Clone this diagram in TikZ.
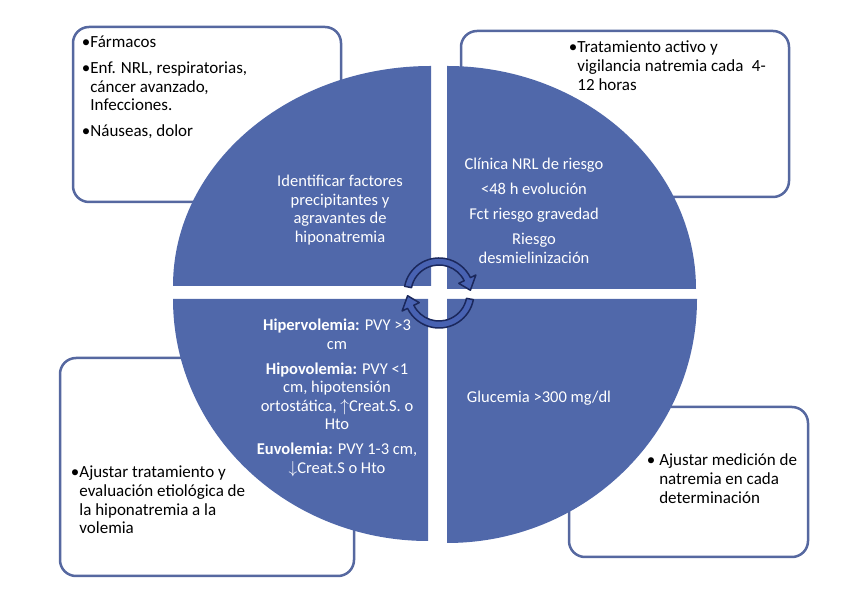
\documentclass[tikz,border=0pt]{standalone}
\usepackage{fontspec}
\setmainfont{Carlito}
\usepackage{tikz}
\usetikzlibrary{positioning}

\definecolor{quadblue}{RGB}{80,104,170}
\definecolor{boxline}{RGB}{86,104,160}
\definecolor{cyclefill}{RGB}{72,98,178}
\definecolor{cycleline}{RGB}{27,40,92}

\begin{document}
\begin{tikzpicture}[x=1pt,y=1pt,
  box/.style={draw=boxline,line width=2.5pt,rounded corners=16pt,fill=white,inner sep=0pt},
  boxtext/.style={inner sep=0pt,align=left,font=\fontsize{17}{18.6}\selectfont},
  quadtext/.style={inner sep=0pt,align=center,text=white,font=\fontsize{16.5}{18.5}\selectfont},
  cyclearrow/.style={fill=cyclefill,draw=cycleline,line width=1.5pt,line join=round}]
   \useasboundingbox (0,0) rectangle (860,589);
   \node[box,minimum width=268pt,minimum height=175pt] (fbox) at (207,474.5) {};
   \node[box,minimum width=328pt,minimum height=166pt] (tbox) at (625,475) {};
   \node[box,minimum width=294pt,minimum height=218pt] (vbox) at (207,122) {};
   \node[box,minimum width=239pt,minimum height=150pt] (gbox) at (688.5,107) {};
   \node[boxtext,below right=9pt and 10pt of fbox.north west] (ftxt)
      {\strut•Fármacos\\[7pt]•Enf. NRL, respiratorias,\\\phantom{•}cáncer avanzado,\\\phantom{•}Infecciones.\\[7pt]•Náuseas, dolor};
   \node[boxtext,below right=10pt and 109pt of tbox.north west] (ttxt)
      {\strut•Tratamiento activo y\\\phantom{•}vigilancia natremia cada\enspace 4-\\\phantom{•}12 horas};
   \node[boxtext,below right=108pt and 12pt of vbox.north west] (vtxt)
      {\strut•Ajustar tratamiento y\\\phantom{•}evaluación etiológica de\\\phantom{•}la hiponatremia a la\\\phantom{•}volemia};
   \node[boxtext,below right=47pt and 79pt of gbox.north west] (gtxt)
      {\strut• Ajustar medición de\\\phantom{• }natremia en cada\\\phantom{• }determinación};
   \fill[quadblue] (431,303) -- (173,303) arc[start angle=180,end angle=90,x radius=258,y radius=220] -- cycle;
   \fill[quadblue] (447,300) -- (447,523) arc[start angle=90,end angle=0,x radius=249,y radius=223] -- cycle;
   \fill[quadblue] (428,290) -- (428,48) arc[start angle=270,end angle=180,x radius=255,y radius=242] -- cycle;
   \fill[quadblue] (447,290) -- (697,290) arc[start angle=0,end angle=-90,x radius=250,y radius=244] -- cycle;
   \node[quadtext] (q1) at (340,379) {Identificar factores\\precipitantes y\\agravantes de\\hiponatremia};
   \node[quadtext] (q2) at (534,378) {Clínica NRL de riesgo\\[6.5pt]<48 h evolución\\[6.5pt]Fct riesgo gravedad\\[6.5pt]Riesgo\\desmielinización};
   \node[quadtext] (q3) at (337,191) {\textbf{Hipervolemia:} PVY >3\\cm\\[6.5pt]\textbf{Hipovolemia:} PVY <1\\cm, hipotensión\\ortostática, $\uparrow$Creat.S. o\\Hto\\[6.5pt]\textbf{Euvolemia:} PVY 1-3 cm,\\$\downarrow$Creat.S o Hto};
   \node[quadtext] (q4) at (539,191) {Glucemia >300 mg/dl};
   \begin{scope}[shift={(439,296)}]
    \foreach \r in {0,180}
      \draw[cyclearrow,rotate=\r] (169:35) arc[start angle=169,end angle=26,radius=35] -- (26:41) -- (5:31.5)
         -- (26:22) -- (26:28) arc[start angle=26,end angle=169,radius=28] -- cycle;
   \end{scope}
\end{tikzpicture}
\end{document}
